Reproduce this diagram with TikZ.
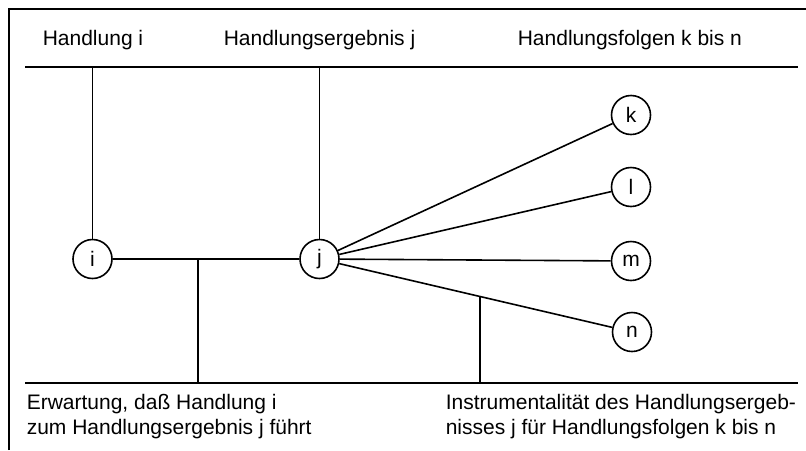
\documentclass[tikz,border=0pt]{standalone}
\usepackage{fontspec}
\setmainfont{Liberation Sans}
\usetikzlibrary{calc}
\begin{document}
\begin{tikzpicture}[x=0.5pt, y=-0.5pt, line width=0.8pt]
  \tikzset{state/.style={draw,circle,minimum size=19.5pt,inner sep=0pt,
             font=\fontsize{10.5}{12.5}\selectfont},
           caption/.style={anchor=base west,align=left,inner sep=0pt,
             font=\fontsize{10.5}{12.5}\selectfont}}
  \useasboundingbox (0,0) rectangle (806,450);
  \draw (9,450) -- (9,9) -- (806,9);
  \coordinate (topl) at (25,67);
  \coordinate (topr) at (798,67);
  \coordinate (botl) at (25,383);
  \coordinate (botr) at (798,383);
  \draw (topl) -- (topr);
  \draw (botl) -- (botr);
  \node[caption] (hi) at (42,45) {Handlung i};
  \node[caption] (hj) at (223,45) {Handlungsergebnis j};
  \node[caption] (hk) at (517,45) {Handlungsfolgen k bis n};
  \node[state] (i) at (92.5,259) {i};
  \node[state] (j) at (319.5,259) {j};
  \node[state] (k) at (631,115) {k};
  \node[state] (l) at (631,187) {l};
  \node[state] (m) at (631,261) {m};
  \node[state] (n) at (632,332) {n};
  \draw (i) -- (i |- topl);
  \draw (j) -- (j |- topl);
  \draw (i) -- (j);
  \foreach \x in {k,l,m,n}
    \draw (j) -- (\x);
  \coordinate (ij) at ($(i.center)!0.465!(j.center)$);
  \coordinate (jn) at ($(j.center)!0.5136!(n.center)$);
  \draw (ij) -- (ij |- botl);
  \draw (jn) -- (jn |- botl);
  \node[caption] (erw) at (26,434) {Erwartung, daß Handlung i\\zum Handlungsergebnis j führt};
  \node[caption] (ins) at (445,434) {Instrumentalität des Handlungsergeb-\\nisses j für Handlungsfolgen k bis n};
\end{tikzpicture}
\end{document}
